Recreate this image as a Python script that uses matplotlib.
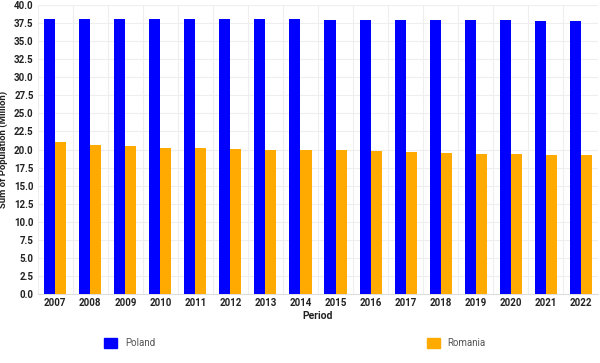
import numpy as np
import matplotlib
matplotlib.use('Agg')
import matplotlib.pyplot as plt
from matplotlib.patches import Patch

# data
years = ['2007', '2008', '2009', '2010', '2011', '2012', '2013', '2014',
         '2015', '2016', '2017', '2018', '2019', '2020', '2021', '2022']
poland = [38.12, 38.12, 38.14, 38.02, 38.06, 38.06, 38.02, 38.02,
          38.00, 37.98, 37.98, 37.98, 37.97, 37.96, 37.84, 37.80]
romania = [21.10, 20.64, 20.48, 20.28, 20.15, 20.07, 19.98, 19.95,
           19.88, 19.76, 19.64, 19.53, 19.41, 19.33, 19.28, 19.25]
y_ticks = np.arange(0, 40.1, 2.5)

plt.rcParams['font.family'] = ['Roboto', 'DejaVu Sans']

fig = plt.figure(figsize=(6.0, 3.63), dpi=100)
ax = fig.add_axes([0.063, 0.19, 0.934, 0.796])

x = np.arange(len(years))
w = 0.315
ax.bar(x - w / 2, poland, width=w, color='#0000ff', zorder=3)
ax.bar(x + w / 2, romania, width=w, color='#ffaa00', zorder=3)

ax.set_xlim(-0.5, len(years) - 0.5)
ax.set_ylim(0, 40)
ax.set_yticks(y_ticks)
ax.set_yticklabels([f'{v:.1f}' for v in y_ticks], fontsize=7, fontweight='bold', color='#222222')
ax.set_xticks(x)
ax.set_xticklabels(years, fontsize=7, fontweight='bold', color='#222222')
ax.set_xticks(np.arange(-0.5, len(years)), minor=True)
ax.tick_params(axis='both', which='both', length=0, pad=3)

ax.grid(axis='y', color='#eeeeee', linewidth=0.8, zorder=0)
ax.grid(axis='x', which='minor', color='#eeeeee', linewidth=0.8, zorder=0)
ax.grid(axis='x', which='major', visible=False)
for s in ['top', 'right', 'left']:
    ax.spines[s].set_visible(False)
ax.spines['bottom'].set_color('#dddddd')

ax.set_ylabel('Sum of Population (Million)', fontsize=6.8, fontweight='bold', color='#222222', labelpad=4)
ax.set_xlabel('Period', fontsize=7.5, fontweight='bold', color='#222222', labelpad=2)

handles = [Patch(color='#0000ff', label='Poland'), Patch(color='#ffaa00', label='Romania')]
fig.legend(handles=handles, loc='center', bbox_to_anchor=(0.492, 0.055), ncol=2,
           frameon=False, fontsize=7, labelcolor='#555555', handlelength=1.3,
           handleheight=1.3, columnspacing=28, handletextpad=0.8)

fig.savefig('out.png', dpi=100)
